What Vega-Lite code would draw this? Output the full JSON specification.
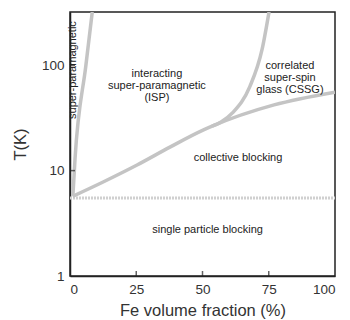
{
  "$schema": "https://vega.github.io/schema/vega-lite/v6.json",
  "width": 265,
  "height": 264,
  "autosize": {"type": "none"},
  "padding": {"left": 70, "top": 12, "right": 15, "bottom": 44},
  "background": "white",
  "config": {
    "font": "Liberation Sans",
    "view": {"stroke": "#222", "strokeWidth": 1.5},
    "axis": {"grid": false, "ticks": false, "domainColor": "#222", "domainWidth": 1.5, "labelColor": "#333", "titleColor": "#333", "labelFontSize": 13.5, "titleFontSize": 16.5, "titleFontWeight": "normal"}
  },
  "datasets": {
    "curves": [
      {"series": "sp", "ord": 1, "x": 1.1, "y": 5.8},
      {"series": "sp", "ord": 2, "x": 1.9, "y": 13},
      {"series": "sp", "ord": 3, "x": 6.0, "y": 100},
      {"series": "sp", "ord": 4, "x": 8.4, "y": 320},
      {"series": "lower", "ord": 1, "x": 1.0, "y": 5.7},
      {"series": "lower", "ord": 2, "x": 12.5, "y": 7.8},
      {"series": "lower", "ord": 3, "x": 25.3, "y": 11.3},
      {"series": "lower", "ord": 4, "x": 37.7, "y": 16.7},
      {"series": "lower", "ord": 5, "x": 50.2, "y": 24.2},
      {"series": "lower", "ord": 6, "x": 53.6, "y": 26.4},
      {"series": "lower", "ord": 7, "x": 77, "y": 42},
      {"series": "lower", "ord": 8, "x": 100, "y": 55.5},
      {"series": "upper", "ord": 1, "x": 53.6, "y": 26.4},
      {"series": "upper", "ord": 2, "x": 57, "y": 29},
      {"series": "upper", "ord": 3, "x": 61.5, "y": 35.7},
      {"series": "upper", "ord": 4, "x": 67.9, "y": 63},
      {"series": "upper", "ord": 5, "x": 72.5, "y": 142},
      {"series": "upper", "ord": 6, "x": 75.1, "y": 320}
    ],
    "dotted": [
      {"x": 0, "y": 5.5},
      {"x": 100, "y": 5.5}
    ],
    "xticks": [
      {"x": 25, "y": 1},
      {"x": 50, "y": 1},
      {"x": 75, "y": 1}
    ],
    "yticks": [
      {"x": 0, "y": 10},
      {"x": 0, "y": 100}
    ],
    "labels": [
      {"x": 32.8, "y": 82, "text": ["interacting", "super-paramagnetic", "(ISP)"]},
      {"x": 83, "y": 98, "text": ["correlated", "super-spin", "glass (CSSG)"]},
      {"x": 63.4, "y": 13.1, "text": ["collective blocking"]},
      {"x": 51.9, "y": 2.73, "text": ["single particle blocking"]}
    ],
    "vlabel": [
      {"x": 0.95, "y": 90, "text": "super-paramagnetic"}
    ]
  },
  "encoding": {
    "x": {"field": "x", "type": "quantitative", "scale": {"domain": [0, 100], "nice": false},
      "axis": {"values": [0, 25, 50, 75, 100], "labelPadding": 6, "title": "Fe volume fraction (%)", "titlePadding": 7}},
    "y": {"field": "y", "type": "quantitative", "scale": {"type": "log", "domain": [1, 320], "nice": false},
      "axis": {"values": [1, 10, 100], "labelPadding": 6, "title": "T(K)", "titlePadding": 13}}
  },
  "layer": [
    {
      "data": {"name": "dotted"},
      "mark": {"type": "line", "color": "#d0d0d0", "strokeWidth": 3, "strokeDash": [2, 1], "clip": true}
    },
    {
      "data": {"name": "curves"},
      "mark": {"type": "line", "color": "#c4c4c4", "strokeWidth": 3.5, "interpolate": "monotone", "clip": true},
      "encoding": {"detail": {"field": "series"}, "order": {"field": "ord", "type": "quantitative"}}
    },
    {
      "data": {"name": "xticks"},
      "mark": {"type": "tick", "orient": "vertical", "size": 10, "thickness": 1.5, "color": "#222", "clip": true}
    },
    {
      "data": {"name": "yticks"},
      "mark": {"type": "tick", "orient": "horizontal", "size": 10, "thickness": 1.5, "color": "#222", "clip": true}
    },
    {
      "data": {"name": "labels"},
      "mark": {"type": "text", "fontSize": 11, "color": "#222", "lineHeight": 12, "align": "center", "baseline": "middle"},
      "encoding": {"text": {"field": "text"}}
    },
    {
      "data": {"name": "vlabel"},
      "mark": {"type": "text", "fontSize": 11, "color": "#222", "angle": 270, "align": "center", "baseline": "middle"},
      "encoding": {"text": {"field": "text"}}
    }
  ]
}
